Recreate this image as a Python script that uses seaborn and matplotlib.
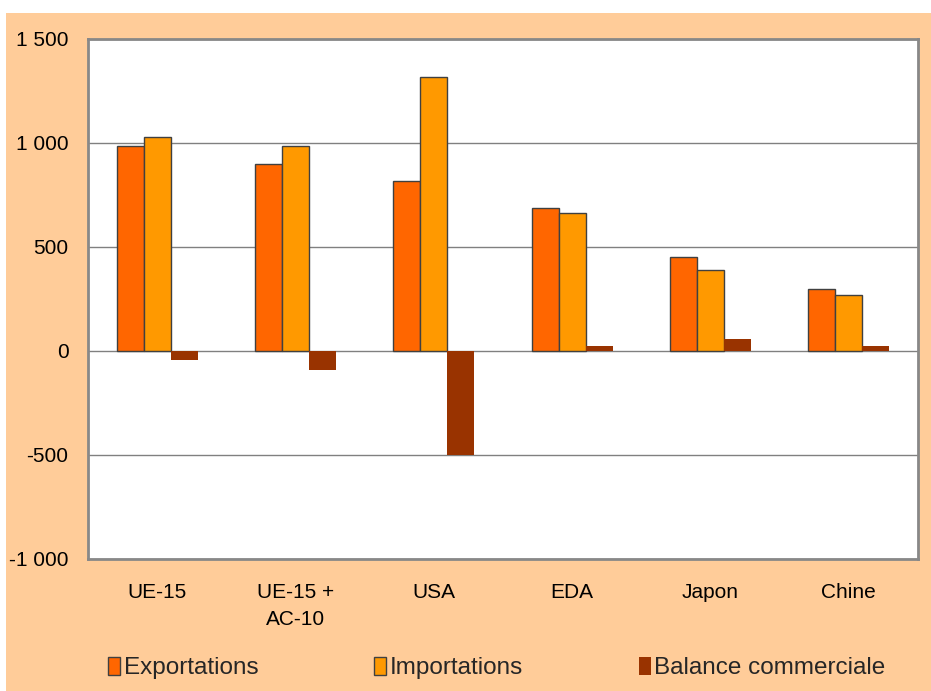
import pandas as pd
import matplotlib.pyplot as plt
import matplotlib.patches as mpatches
from matplotlib.ticker import FuncFormatter, MultipleLocator
import seaborn as sns

# Data
regions = ["UE-15", "UE-15 +\nAC-10", "USA", "EDA", "Japon", "Chine"]
exportations = [985, 897, 816, 687, 450, 298]
importations = [1029, 984, 1317, 663, 389, 271]
balance = [-42, -90, -500, 25, 58, 25]

series_names = ["Exportations", "Importations", "Balance commerciale"]
colors = ["#FF6600", "#FF9900", "#993300"]


def build_frame():
    rows = []
    for name, values in zip(series_names, [exportations, importations, balance]):
        for reg, v in zip(regions, values):
            rows.append({"Région": reg, "Série": name, "Valeur": v})
    return pd.DataFrame(rows)


def thousands(x, pos):
    s = f"{abs(int(x)):,}".replace(",", " ")
    return ("-" if x < 0 else "") + s


def plot_chart(data):
    sns.set_style("white")
    plt.rcParams["font.family"] = ["Liberation Sans", "DejaVu Sans"]

    fig = plt.figure(figsize=(9.31, 6.91), dpi=100, facecolor="#FFCC99")
    # white strips at top and left of the image
    fig.patches.append(mpatches.Rectangle((0, (691 - 13) / 691), 1, 13 / 691,
                                          transform=fig.transFigure,
                                          facecolor="white", edgecolor="none"))
    fig.patches.append(mpatches.Rectangle((0, 0), 6 / 931, 1,
                                          transform=fig.transFigure,
                                          facecolor="white", edgecolor="none"))
    ax = fig.add_axes([88 / 931, (691 - 559) / 691, (918 - 88) / 931, (559 - 39) / 691])
    ax.set_facecolor("white")

    sns.barplot(data=data, x="Région", y="Valeur", hue="Série", palette=colors,
                width=0.585, saturation=1, ax=ax, zorder=3)

    # edges on exports and imports only
    for i, cont in enumerate(ax.containers):
        for bar in cont:
            if i < 2:
                bar.set_edgecolor("#404040")
                bar.set_linewidth(1.0)
            else:
                bar.set_edgecolor("none")

    ax.set_ylim(-1000, 1500)
    ax.yaxis.set_major_locator(MultipleLocator(500))
    ax.yaxis.set_major_formatter(FuncFormatter(thousands))
    ax.grid(axis="y", color="#808080", linewidth=1, zorder=0)
    ax.set_axisbelow(True)

    for sp in ax.spines.values():
        sp.set_color("#888888")
        sp.set_linewidth(2)

    ax.tick_params(axis="both", length=0, labelsize=15, colors="black")
    ax.tick_params(axis="y", pad=14)
    ax.tick_params(axis="x", pad=17)
    for lbl in ax.get_xticklabels():
        lbl.set_linespacing(1.55)
    ax.set_xlabel("")
    ax.set_ylabel("")

    handles, labels = ax.get_legend_handles_labels()
    ax.legend_.remove()
    for i, h in enumerate(handles):
        h.set_edgecolor("#404040" if i < 2 else "none")
        h.set_linewidth(1.0)
    fig.legend(handles, labels, loc="center", bbox_to_anchor=(497 / 931, 23 / 691),
               ncol=3, frameon=False, fontsize=17.5, handlelength=0.5,
               handleheight=0.8, handletextpad=0.15, columnspacing=4.75)

    fig.savefig("out.png", dpi=100, facecolor=fig.get_facecolor())


if __name__ == "__main__":
    plot_chart(build_frame())
